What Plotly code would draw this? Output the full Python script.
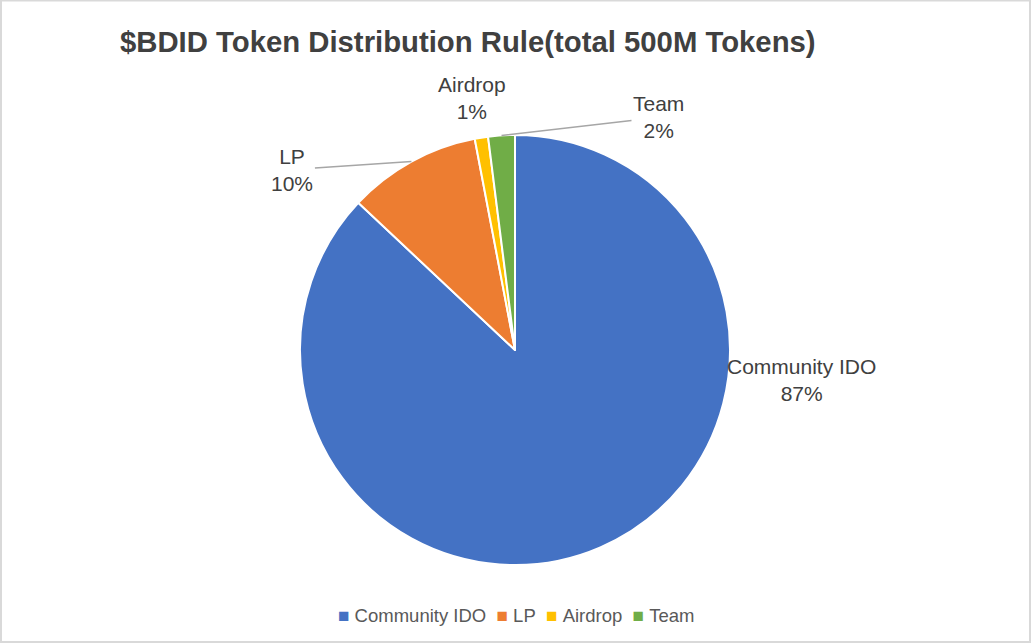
import math
import plotly.graph_objects as go

# ---- data ----
labels = ["Community IDO", "LP", "Airdrop", "Team"]
tokens_m = [435, 50, 5, 10]          # millions of tokens (total 500M)
colors = ["#4472C4", "#ED7D31", "#FFC000", "#70AD47"]
title_text = "$BDID Token Distribution Rule(total 500M Tokens)"

# ---- layout constants (pixels) ----
W, H = 1032, 644
CX, CY, R = 515, 350, 215
# label offsets from the slice's outer-edge midpoint (px, screen y down)
label_offsets = {
    "Community IDO": (201, -167, False),
    "LP": (-119, 8, True),
    "Airdrop": (-9, -40, False),
    "Team": (157, -18, True),
}
text_color = "#404040"
font_family = "Liberation Sans, Arial, Helvetica, sans-serif"

fig = go.Figure(
    go.Pie(
        labels=labels,
        values=tokens_m,
        sort=False,
        direction="clockwise",
        rotation=0,
        marker=dict(colors=colors, line=dict(color="white", width=2)),
        textinfo="none",
        hoverinfo="label+percent+value",
        showlegend=False,
        domain=dict(
            x=[(CX - R) / W, (CX + R) / W],
            y=[1 - (CY + R) / H, 1 - (CY - R) / H],
        ),
    )
)

total = sum(tokens_m)
cum = 0
annotations = []
for lab, v in zip(labels, tokens_m):
    frac_mid = (cum + v / 2) / total
    cum += v
    ang = 2 * math.pi * frac_mid
    px = CX + R * math.sin(ang)
    py = CY - R * math.cos(ang)
    pct = round(100 * v / total)
    dx, dy, line = label_offsets[lab]
    txt = f"{lab}<br>{pct}%"
    base = dict(
        x=px / W, y=1 - py / H, xref="paper", yref="paper", text=txt,
        font=dict(size=21, color=text_color, family=font_family),
        xanchor="center", yanchor="middle",
    )
    if line:
        base.update(showarrow=True, arrowhead=0, arrowwidth=1.5,
                    arrowcolor="#A6A6A6", ax=dx, ay=dy, standoff=0)
    else:
        base.update(showarrow=False, xshift=dx, yshift=-dy)
    annotations.append(base)

# legend built from the same label/colour arrays
nb = "\u00a0"
legend_text = (nb * 2).join(
    f'<span style="color:{c};font-size:19px">\u25A0</span>{nb}{lab}'
    for lab, c in zip(labels, colors)
)
annotations.append(dict(
    x=0.5, y=1 - 615 / H, xref="paper", yref="paper", showarrow=False,
    xanchor="center", yanchor="middle", text=legend_text,
    font=dict(size=18.5, color="#595959", family=font_family),
))

fig.update_layout(
    width=W, height=H,
    margin=dict(l=0, r=0, t=0, b=0),
    paper_bgcolor="white",
    plot_bgcolor="white",
    showlegend=False,
    title=dict(
        text=f"<b>{title_text}</b>",
        x=120 / W, xanchor="left",
        y=1 - 42 / H, yanchor="middle",
        font=dict(size=29.3, color=text_color, family=font_family),
    ),
    annotations=annotations,
    shapes=[dict(type="rect", xref="paper", yref="paper",
                 x0=1 / W, x1=1030 / W, y0=1 - 642 / H, y1=1 - 0.5 / H,
                 line=dict(color="#D9D9D9", width=2), layer="below")],
)

fig.write_html("out.html", config={"displayModeBar": False},
               post_script="document.body.style.margin='0';")
